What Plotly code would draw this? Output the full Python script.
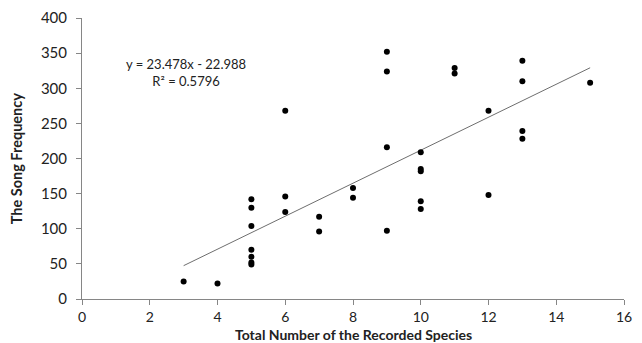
import plotly.graph_objects as go

species = [3, 4,
           5, 5, 5, 5, 5, 5, 5,
           6, 6, 6,
           7, 7,
           8, 8,
           9, 9, 9, 9,
           10, 10, 10, 10, 10,
           11, 11,
           12, 12,
           13, 13, 13, 13,
           15]
song_freq = [25, 22,
             142, 130, 104, 70, 60, 52, 49,
             268, 146, 124,
             117, 96,
             158, 144,
             352, 324, 216, 97,
             209, 185, 182, 139, 128,
             329, 321,
             268, 148,
             339, 310, 239, 228,
             308]

slope = 23.478
intercept = -22.988
r2 = 0.5796

x_ticks = [0, 2, 4, 6, 8, 10, 12, 14, 16]
y_ticks = [0, 50, 100, 150, 200, 250, 300, 350, 400]

x_min, x_max = min(species), max(species)
trend_x = [x_min, x_max]
trend_y = [slope * v + intercept for v in trend_x]

fig = go.Figure()
fig.add_trace(go.Scatter(x=trend_x, y=trend_y, mode="lines",
                         line=dict(color="#6e6e6e", width=1), hoverinfo="skip"))
fig.add_trace(go.Scatter(x=species, y=song_freq, mode="markers",
                         marker=dict(color="black", size=6)))

font_family = "Lato, Open Sans, sans-serif"
axis_common = dict(showgrid=False, zeroline=False, showline=True,
                   linecolor="#868686", linewidth=1, ticks="outside",
                   ticklen=5, tickcolor="#868686", automargin=False,
                   tickfont=dict(family=font_family, size=15, color="#222"))

fig.update_layout(
    width=642, height=343,
    margin=dict(l=82, r=18, t=18, b=44),
    paper_bgcolor="white", plot_bgcolor="white",
    showlegend=False,
    xaxis=dict(range=[0, 16], tickvals=x_ticks, **axis_common),
    yaxis=dict(range=[0, 400], tickvals=y_ticks, **axis_common),
)
fig.update_xaxes(ticklabelstandoff=0, tickfont=dict(size=14))
fig.update_yaxes(ticklabelstandoff=6)
fig.add_annotation(x=0.5, y=-35.5/281, xref="paper", yref="paper",
                   xanchor="center", yanchor="middle", showarrow=False,
                   text="<b>Total Number of the Recorded Species</b>",
                   font=dict(family=font_family, size=14, color="#222"))
fig.add_annotation(x=-65/540, y=0.5, xref="paper", yref="paper",
                   xanchor="center", yanchor="middle", showarrow=False,
                   text="<b>The Song Frequency</b>", textangle=-90,
                   font=dict(family=font_family, size=14.5, color="#222"))
fig.add_annotation(x=3.06, y=323, xref="x", yref="y", showarrow=False,
                   text=f"y = {slope}x - {abs(intercept)}<br>R² = {r2}",
                   font=dict(family=font_family, size=13, color="#222"),
                   align="center")

fig.write_html("out.html", config={"displayModeBar": False},
               post_script="document.body.style.margin='0';document.body.style.overflow='hidden';")
